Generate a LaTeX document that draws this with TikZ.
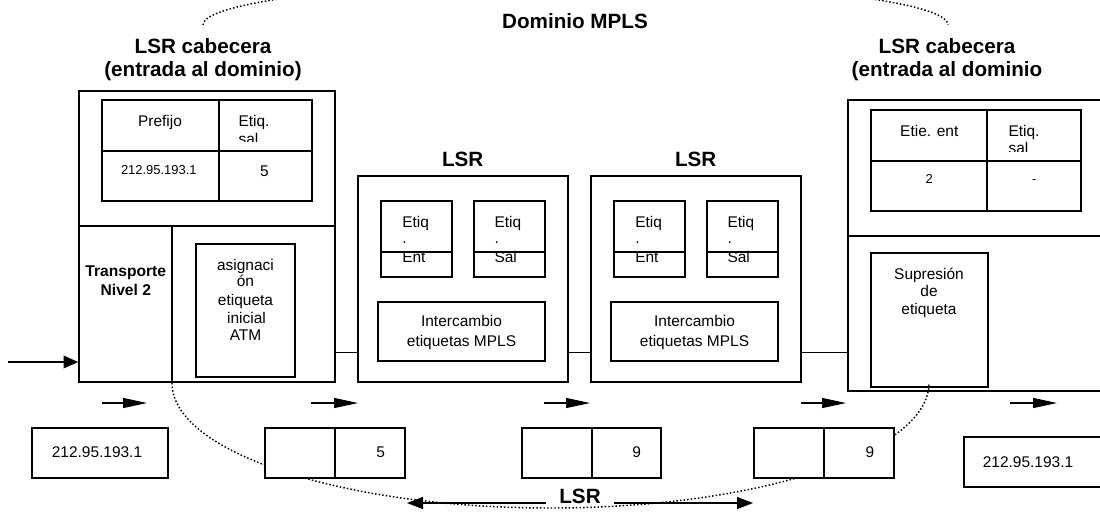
\documentclass[tikz,border=0pt]{standalone}
\usepackage{fontspec}
\setmainfont{Liberation Sans}
\usetikzlibrary{arrows.meta,fit}
\begin{document}
\begin{tikzpicture}[x=0.75pt,y=-0.75pt,
 box/.style={draw, line width=1.2pt, fill=white, inner sep=0pt},
 tbox/.style={draw, line width=2.2pt, fill=white, inner sep=0pt},
 lbl/.style={inner sep=0pt, anchor=base, font=\fontsize{11.6}{13}\selectfont},
 lbll/.style={inner sep=0pt, anchor=base west, font=\fontsize{11.6}{13}\selectfont},
 smalltxt/.style={inner sep=0pt, anchor=base, font=\fontsize{9.7}{11}\selectfont},
 head/.style={inner sep=0pt, anchor=base, font=\bfseries\fontsize{15.5}{17}\selectfont},
 bl/.style={inner sep=0pt, anchor=base, font=\bfseries\fontsize{11.7}{13}\selectfont},
 gridline/.style={line width=1.2pt},
 flow/.style={line width=0.9pt, -{Triangle[length=18pt,width=7.5pt]}},
 dotarc/.style={line width=1.1pt, dash pattern=on 1.1pt off 1.6pt},
]
\useasboundingbox (0,0) rectangle (1100,512);
\clip (0,0) rectangle (1100,512);
\fill[white] (0,0) rectangle (1100,512);

% headers
\node[head] (dom) at (575,28.5) {Dominio MPLS};
\node[head] (h1a) at (203,53.3) {LSR cabecera};
\node[head] (h1b) at (203,76) {(entrada al dominio)};
\node[head] (h2a) at (947,53.3) {LSR cabecera};
\node[head] (h2b) at (947,76) {(entrada al dominio};
\draw[dotarc] (203,25) arc[start angle=180, end angle=360, x radius=372.5, y radius=43];

% left head LSR
\node[box, fit={(79,91)(335,382)}] (lb) {};
\draw[gridline] (79,226) -- (335,226);
\draw[gridline] (172,226) -- (172,382);
\node[box, fit={(102,100)(312,201)}] (lt) {};
\draw[gridline] (219,100) -- (219,201);
\draw[gridline] (102,151) -- (312,151);
\node[lbl] (ltp) at (160,126.7) {Prefijo};
\begin{scope}
\clip (219,100) rectangle (312,141.7);
\node[lbll] (lts1) at (238.3,126.7) {Etiq.};
\node[lbll] (lts2) at (238.3,144.4) {sal};
\end{scope}
\node[smalltxt] (ltip) at (158.8,174.3) {212.95.193.1};
\node[lbl] (lt5) at (264.3,176.7) {5};
\node[bl] (tr1) at (125.8,276.5) {Transporte};
\node[bl] (tr2) at (125.8,295) {Nivel 2};
\node[tbox, fit={(196,244)(295,377)}] (asg) {};
\node[lbl] (asg1) at (245.5,270) {asignaci};
\node[lbl] (asg2) at (245.5,286.7) {ón};
\node[lbl] (asg3) at (245.5,305) {etiqueta};
\node[lbl] (asg4) at (246.5,323) {inicial};
\node[lbl] (asg5) at (245.5,340.7) {ATM};
\coordinate (in) at (8,362);
\draw[line width=1.1pt, -{Triangle[length=11pt,width=9.5pt]}] (in) -- (lb.west |- in);

% LSR 1
\node[head] (l1t) at (462.7,166.7) {LSR};
\node[box, fit={(358,176)(568,382)}] (l1) {};
\node[box, fit={(381,201)(452,277)}] (l1e) {};
\draw[gridline] (381,252) -- (452,252);
\node[lbll] (l1e1) at (402,227.3) {Etiq};
\node[lbll] (l1e2) at (402,243.3) {.};
\node[lbll] (l1e3) at (402,262.7) {Ent};
\node[box, fit={(474,201)(545,277)}] (l1s) {};
\draw[gridline] (474,252) -- (545,252);
\node[lbll] (l1s1) at (494.3,227.3) {Etiq};
\node[lbll] (l1s2) at (494.3,243.3) {.};
\node[lbll] (l1s3) at (494.3,262.7) {Sal};
\node[tbox, fit={(378,302)(545,361)}] (l1x) {};
\node[lbl] (l1x1) at (461.5,326.7) {Intercambio};
\node[lbl] (l1x2) at (461.5,346) {etiquetas MPLS};

% LSR 2
\node[head] (l2t) at (695.7,166.7) {LSR};
\node[box, fit={(591,176)(801,382)}] (l2) {};
\node[box, fit={(614,201)(685,277)}] (l2e) {};
\draw[gridline] (614,252) -- (685,252);
\node[lbll] (l2e1) at (635,227.3) {Etiq};
\node[lbll] (l2e2) at (635,243.3) {.};
\node[lbll] (l2e3) at (635,262.7) {Ent};
\node[box, fit={(707,201)(778,277)}] (l2s) {};
\draw[gridline] (707,252) -- (778,252);
\node[lbll] (l2s1) at (727.3,227.3) {Etiq};
\node[lbll] (l2s2) at (727.3,243.3) {.};
\node[lbll] (l2s3) at (727.3,262.7) {Sal};
\node[tbox, fit={(611,302)(778,361)}] (l2x) {};
\node[lbl] (l2x1) at (694.5,326.7) {Intercambio};
\node[lbl] (l2x2) at (694.5,346) {etiquetas MPLS};

% right head LSR
\node[box, fit={(848,100)(1110,391)}] (rb) {};
\draw[gridline] (848,236) -- (1110,236);
\node[box, fit={(871,110)(1081,211)}] (rt) {};
\draw[gridline] (987,110) -- (987,211);
\draw[gridline] (871,161) -- (1081,161);
\node[lbl] (rte) at (929.3,136) {Etie. ent};
\begin{scope}
\clip (987,110) rectangle (1081,151.7);
\node[lbll] (rts1) at (1008.3,136) {Etiq.};
\node[lbll] (rts2) at (1008.3,153.7) {sal};
\end{scope}
\node[smalltxt] (rt2) at (929.3,183.3) {2};
\node[smalltxt] (rtd) at (1034.3,183.3) {-};
\node[tbox, fit={(871,253)(988,387)}] (sup) {};
\node[lbl] (sup1) at (929,279.3) {Supresión};
\node[lbl] (sup2) at (929,296.7) {de};
\node[lbl] (sup3) at (929,314.3) {etiqueta};

% links
\coordinate (cy) at (0,352.5);
\draw[gridline] (lb.east |- cy) -- (l1.west |- cy);
\draw[gridline] (l1.east |- cy) -- (l2.west |- cy);
\draw[gridline] (l2.east |- cy) -- (rb.west |- cy);

% dotted LSR arc
\draw[dotarc] (172,383) arc[start angle=180, end angle=0, x radius=378.5, y radius=125];

% flow arrows
\foreach \a/\b [count=\i] in {102/147, 311/358, 544/590, 801/846, 1010/1057}{
  \coordinate (fa\i) at (\a,403);
  \coordinate (fb\i) at (\b,403);
  \draw[flow] (fa\i) -- (fb\i);
}

% packets
\node[box, fit={(32,428)(168,478)}] (p0) {};
\node[lbl] (p0t) at (97,457.5) {212.95.193.1};
\node[box, fit={(265,428)(335,478)}] (p1a) {};
\node[box, fit={(335,428)(405,478)}] (p1b) {};
\node[lbl] (p1t) at (380.6,457.5) {5};
\node[box, fit={(522,428)(592,478)}] (p2a) {};
\node[box, fit={(592,428)(661,478)}] (p2b) {};
\node[lbl] (p2t) at (636.7,457.5) {9};
\node[box, fit={(754,428)(824,478)}] (p3a) {};
\node[box, fit={(824,428)(894,478)}] (p3b) {};
\node[lbl] (p3t) at (870,457.5) {9};
\node[box, fit={(964,437)(1110,487)}] (p4) {};
\node[lbl] (p4t) at (1028,467) {212.95.193.1};

% bottom LSR arrow
\node[head] (lsrb) at (580,503) {LSR};
\coordinate (la) at (407,503);
\coordinate (lz) at (753,503);
\coordinate (g1) at (546,503);
\coordinate (g2) at (614,503);
\draw[line width=1.1pt, -{Triangle[length=12pt,width=9pt]}] (g1) -- (la);
\draw[line width=1.1pt, -{Triangle[length=12pt,width=9pt]}] (g2) -- (lz);
\end{tikzpicture}
\end{document}
